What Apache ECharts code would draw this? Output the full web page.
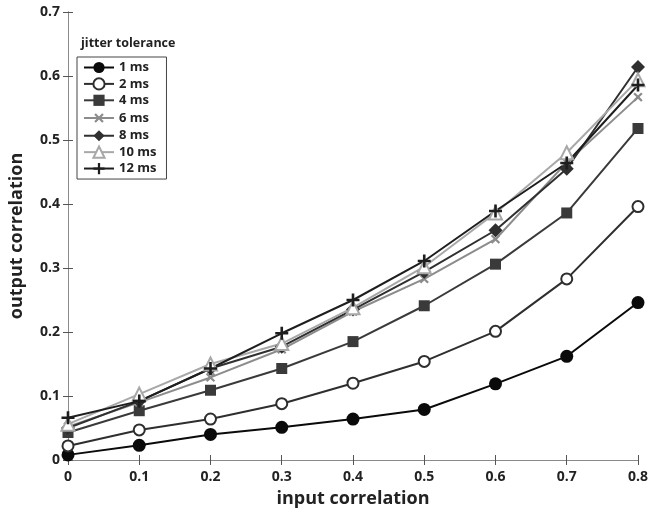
<!DOCTYPE html>
<html>
<head>
<meta charset="utf-8">
<script src="https://cdn.jsdelivr.net/npm/echarts@6/dist/echarts.min.js"></script>
<style>
  html, body { margin: 0; padding: 0; background: #fff; }
  #chart { width: 651px; height: 513px; }
</style>
</head>
<body>
<div id="chart"></div>
<script>
// input correlation (x) values
const inputCorr = [0, 0.1, 0.2, 0.3, 0.4, 0.5, 0.6, 0.7, 0.8]

// output correlation per jitter tolerance
const ms1 = [0.008, 0.023, 0.040, 0.051, 0.064, 0.079, 0.119, 0.162, 0.246]
const ms2 = [0.022, 0.047, 0.064, 0.088, 0.120, 0.154, 0.201, 0.283, 0.396]
const ms4 = [0.043, 0.077, 0.109, 0.143, 0.185, 0.241, 0.306, 0.386, 0.518]
const ms6 = [0.052, 0.090, 0.129, 0.173, 0.232, 0.283, 0.345, 0.465, 0.567]
const ms8 = [0.050, 0.092, 0.143, 0.177, 0.235, 0.294, 0.359, 0.455, 0.614]
const ms10 = [0.056, 0.103, 0.150, 0.182, 0.238, 0.302, 0.386, 0.480, 0.594]
const ms12 = [0.066, 0.092, 0.143, 0.198, 0.250, 0.311, 0.389, 0.464, 0.586]

const yTicks = ['0', '0.1', '0.2', '0.3', '0.4', '0.5', '0.6', '0.7']
const xTicks = ['0', '0.1', '0.2', '0.3', '0.4', '0.5', '0.6', '0.7', '0.8']

const FONT = '"Open Sans", "DejaVu Sans", sans-serif'
const PLUS = 'path://M4,0H6V4H10V6H6V10H4V6H0V4H4Z'

function pairs(vals) {
  return inputCorr.map((x, i) => [x, vals[i]])
}

function makeSeries(name, vals, color, symbol, size, extra) {
  return Object.assign({
    name: name,
    type: 'line',
    data: pairs(vals),
    symbol: symbol,
    symbolSize: size,
    showAllSymbol: true,
    lineStyle: { color: color, width: 2 },
    itemStyle: { color: color, borderWidth: 0 },
    emphasis: { disabled: true },
    animation: false
  }, extra || {})
}

const chart = echarts.init(document.getElementById('chart'))

const axisLine = { show: true, lineStyle: { color: '#8a8a8a', width: 1 } }
const axisTick = { show: true, inside: true, length: 5, lineStyle: { color: '#555' } }

chart.setOption({
  backgroundColor: '#fff',
  title: {
    text: 'jitter tolerance',
    left: 76,
    top: 32,
    textStyle: { fontFamily: FONT, fontSize: 12.5, fontWeight: 'bold', color: '#222' }
  },
  legend: {
    orient: 'vertical',
    left: 77,
    top: 57,
    padding: [4, 10, 4, 6],
    itemWidth: 30,
    itemHeight: 14,
    itemGap: 3.3,
    borderColor: '#444',
    borderWidth: 1,
    backgroundColor: '#fff',
    textStyle: { fontFamily: FONT, fontSize: 13, fontWeight: 'bold', color: '#222' },
    data: ['1 ms', '2 ms', '4 ms', '6 ms', '8 ms', '10 ms', '12 ms']
  },
  grid: { left: 68, right: 10, top: 12, bottom: 52 },
  xAxis: [
    {
      type: 'value',
      min: 0,
      max: 0.8,
      interval: 0.1,
      splitLine: { show: false },
      axisLine: axisLine,
      axisTick: axisTick,
      axisLabel: {
        fontFamily: FONT, fontSize: 14, fontWeight: 'bold', color: '#222', margin: 10,
        formatter: (v) => xTicks[Math.round(v * 10)]
      },
      name: 'input correlation',
      nameLocation: 'middle',
      nameGap: 30,
      nameTextStyle: { fontFamily: FONT, fontSize: 18, fontWeight: 'bold', color: '#222' }
    },
    {
      type: 'value',
      position: 'top',
      min: 0,
      max: 0.8,
      interval: 0.1,
      splitLine: { show: false },
      axisLine: axisLine,
      axisTick: axisTick,
      axisLabel: { show: false }
    }
  ],
  yAxis: [
    {
      type: 'value',
      min: 0,
      max: 0.7,
      interval: 0.1,
      splitLine: { show: false },
      axisLine: axisLine,
      axisTick: axisTick,
      axisLabel: {
        fontFamily: FONT, fontSize: 14, fontWeight: 'bold', color: '#222', margin: 8,
        formatter: (v) => yTicks[Math.round(v * 10)]
      },
      name: 'output correlation',
      nameLocation: 'middle',
      nameRotate: 90,
      nameGap: 42,
      nameTextStyle: { fontFamily: FONT, fontSize: 18, fontWeight: 'bold', color: '#222' }
    },
    {
      type: 'value',
      position: 'right',
      min: 0,
      max: 0.7,
      interval: 0.1,
      splitLine: { show: false },
      axisLine: axisLine,
      axisTick: axisTick,
      axisLabel: { show: false }
    }
  ],
  series: [
    makeSeries('1 ms', ms1, '#0a0a0a', 'circle', 13),
    makeSeries('2 ms', ms2, '#2e2e2e', 'emptyCircle', 11, {
      itemStyle: { color: '#2e2e2e', borderWidth: 2 }
    }),
    makeSeries('4 ms', ms4, '#3a3a3a', 'rect', 11),
    makeSeries('6 ms', ms6, '#8c8c8c', PLUS, 11, { symbolRotate: 45 }),
    makeSeries('8 ms', ms8, '#303030', 'diamond', 14),
    makeSeries('10 ms', ms10, '#a8a8a8', 'emptyTriangle', 13, {
      itemStyle: { color: '#a8a8a8', borderWidth: 2 }
    }),
    makeSeries('12 ms', ms12, '#1e1e1e', PLUS, 13)
  ]
})
</script>
</body>
</html>
